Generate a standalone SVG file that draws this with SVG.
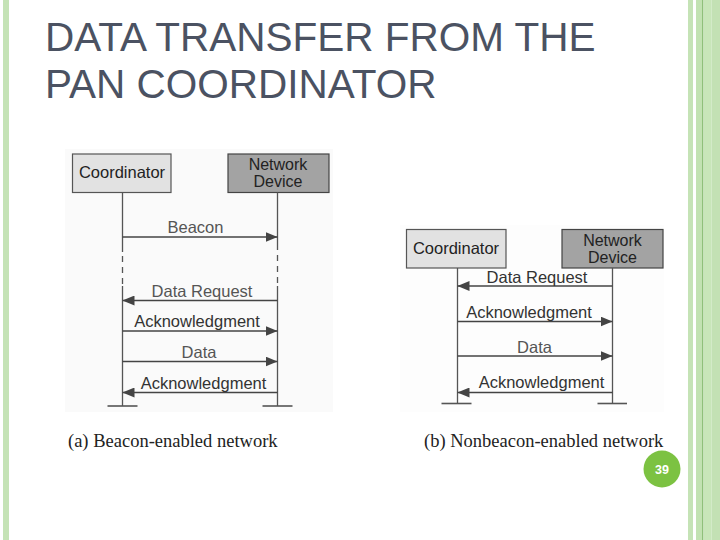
<svg xmlns="http://www.w3.org/2000/svg" width="720" height="540" viewBox="0 0 720 540">
<style>
.title{font-family:"Liberation Sans",Arial,sans-serif;font-size:40.5px;fill:#4b5262}
.box1{fill:#e2e2e2;stroke:#555;stroke-width:1.2}
.box2{fill:#a3a3a3;stroke:#444;stroke-width:1.2}
.bt{font-family:"Liberation Sans",Arial,sans-serif;font-size:16.5px;fill:#222;text-anchor:middle}
.bt2{font-family:"Liberation Sans",Arial,sans-serif;font-size:16px;fill:#222;text-anchor:middle}
.lab{font-family:"Liberation Sans",Arial,sans-serif;font-size:16.5px;fill:#333;text-anchor:middle}
.lab2{font-family:"Liberation Sans",Arial,sans-serif;font-size:16.5px;fill:#555;text-anchor:middle}
.life{stroke:#555;stroke-width:1.3;fill:none}
.dash{stroke:#555;stroke-width:1.3;stroke-dasharray:6 5;fill:none}
.msg{stroke:#444;stroke-width:1.6;fill:none}
.base{stroke:#555;stroke-width:1.6}
.cap{font-family:"Liberation Serif","Times New Roman",serif;font-size:18.5px;fill:#222}
</style>
<defs>
<marker id="ah" viewBox="0 0 12 10" refX="12" refY="5" markerWidth="12" markerHeight="10" markerUnits="userSpaceOnUse" orient="auto">
<path d="M0,0 L12,5 L0,10 Z" fill="#444"/>
</marker>
</defs>
<rect width="720" height="540" fill="#fff"/>
<!-- decorative stripes -->
<rect x="3" y="0" width="6" height="540" fill="#c5e3b6"/>
<rect x="688" y="0" width="5" height="540" fill="#c5e3b6"/>
<rect x="696" y="0" width="6" height="540" fill="#c2e2b2"/>
<rect x="702" y="0" width="1.5" height="540" fill="#8fc07a"/>
<rect x="703.5" y="0" width="8" height="540" fill="#c8e6b9"/>
<rect x="711.5" y="0" width="8.5" height="540" fill="#c3e1b4"/>
<!-- title -->
<text class="title" x="45" y="51">DATA TRANSFER FROM THE</text>
<text class="title" x="45" y="98">PAN COORDINATOR</text>
<!-- diagram backgrounds -->
<rect x="65" y="149" width="268" height="263" fill="#fafafa"/>
<rect x="400" y="225" width="264" height="187" fill="#fdfdfd"/>
<!-- left diagram nodes -->
<g id="a-coordinator">
<rect class="box1" x="72.5" y="154" width="98.5" height="38.5"/>
<text class="bt" x="122" y="178">Coordinator</text>
</g>
<g id="a-network-device">
<rect class="box2" x="228" y="154" width="101" height="38.5"/>
<text class="bt2" x="278" y="170">Network</text>
<text class="bt2" x="278" y="187">Device</text>
</g>
<!-- right diagram nodes -->
<g id="b-coordinator">
<rect class="box1" x="406.5" y="229.5" width="99.5" height="38.5"/>
<text class="bt" x="456" y="254">Coordinator</text>
</g>
<g id="b-network-device">
<rect class="box2" x="562" y="229.5" width="101" height="38.5"/>
<text class="bt2" x="612.5" y="245.5">Network</text>
<text class="bt2" x="612.5" y="262.5">Device</text>
</g>
<!-- connectors -->
<g id="connectors">
<line class="life" x1="122.5" y1="192.5" x2="122.5" y2="252"/>
<line class="dash" x1="122.5" y1="256" x2="122.5" y2="284"/>
<line class="life" x1="122.5" y1="286" x2="122.5" y2="406"/>
<line class="life" x1="277.5" y1="192.5" x2="277.5" y2="250"/>
<line class="dash" x1="277.5" y1="255" x2="277.5" y2="284"/>
<line class="life" x1="277.5" y1="286" x2="277.5" y2="406"/>
<line class="base" x1="107.5" y1="406" x2="137.5" y2="406"/>
<line class="base" x1="262.5" y1="406" x2="292.5" y2="406"/>
<line class="msg" x1="122.5" y1="237" x2="277.5" y2="237" marker-end="url(#ah)"/>
<line class="msg" x1="277.5" y1="300.5" x2="122.5" y2="300.5" marker-end="url(#ah)"/>
<line class="msg" x1="122.5" y1="331" x2="277.5" y2="331" marker-end="url(#ah)"/>
<line class="msg" x1="122.5" y1="361.5" x2="277.5" y2="361.5" marker-end="url(#ah)"/>
<line class="msg" x1="277.5" y1="392.5" x2="122.5" y2="392.5" marker-end="url(#ah)"/>
<line class="life" x1="457.5" y1="268" x2="457.5" y2="403.5"/>
<line class="life" x1="612.5" y1="268" x2="612.5" y2="403.5" stroke="#888"/>
<line class="base" x1="441.5" y1="403.5" x2="471.5" y2="403.5"/>
<line class="base" x1="597.5" y1="403.5" x2="627" y2="403.5"/>
<line class="msg" x1="612.5" y1="286" x2="457.5" y2="286" marker-end="url(#ah)"/>
<line class="msg" x1="457.5" y1="321.5" x2="612.5" y2="321.5" marker-end="url(#ah)"/>
<line class="msg" x1="457.5" y1="356" x2="612.5" y2="356" marker-end="url(#ah)"/>
<line class="msg" x1="612.5" y1="392.5" x2="457.5" y2="392.5" marker-end="url(#ah)"/>
</g>
<!-- message labels -->
<text class="lab2" x="195.5" y="233">Beacon</text>
<text class="lab2" x="202" y="297">Data Request</text>
<text class="lab" x="197" y="327">Acknowledgment</text>
<text class="lab2" x="199" y="358">Data</text>
<text class="lab" x="203.5" y="389">Acknowledgment</text>
<text class="lab" x="537" y="283">Data Request</text>
<text class="lab" x="529" y="318">Acknowledgment</text>
<text class="lab2" x="534.5" y="352.5">Data</text>
<text class="lab" x="541.5" y="388">Acknowledgment</text>
<!-- captions -->
<text class="cap" x="68" y="447">(a) Beacon-enabled network</text>
<text class="cap" x="424" y="447">(b) Nonbeacon-enabled network</text>
<!-- page number -->
<circle cx="662" cy="469" r="18.5" fill="#7cc242"/>
<text x="662" y="474" font-family="'Liberation Sans',Arial,sans-serif" font-size="12.5" font-weight="bold" fill="#fff" text-anchor="middle">39</text>
</svg>
